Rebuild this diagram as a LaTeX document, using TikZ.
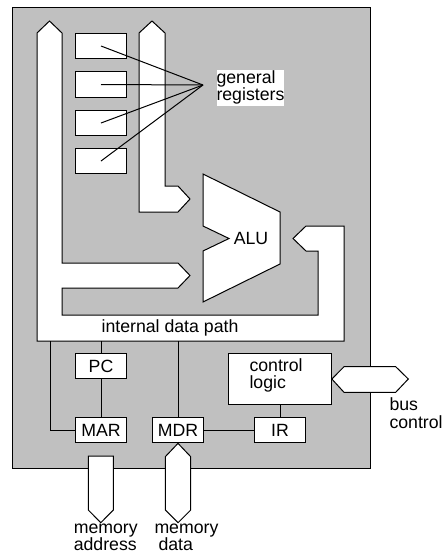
\documentclass[tikz,border=0pt]{standalone}
\usepackage{fontspec}
\setmainfont{Liberation Sans}
\definecolor{cpugray}{HTML}{C0C0C0}
\begin{document}
\begin{tikzpicture}[x=1pt,y=-1pt,line width=1pt,
    font=\fontsize{17.7}{17.5}\selectfont,
    unit/.style={draw,fill=white,minimum width=51.7pt,minimum height=25.7pt,inner sep=0pt},
    bus/.style={draw,fill=white}]
    \useasboundingbox (0,0) rectangle (442,555);
    \draw[fill=cpugray] (12,7) rectangle (370,468);
    % internal data path
    \draw[bus] (37,341) -- (37,33) -- (49.5,21) -- (62,33) -- (62,263) -- (178,263) -- (190,275.5) -- (178,288) -- (62,288) -- (62,315) -- (318,315) -- (318,251) -- (306,251) -- (293,238.5) -- (306,226) -- (344,226) -- (344,341) -- cycle;
    \node (path) at (170,328) {internal data path};
    \draw[bus] (139,212) -- (139,33) -- (152,21) -- (165,33) -- (165,186) -- (178,186) -- (190,199) -- (178,212) -- cycle;
    % ALU
    \draw[bus] (203,174) -- (280,212) -- (280,264) -- (203,302) -- (203,251) -- (229,238.5) -- (203,226) -- cycle;
    \node (alu) at (251,238) {ALU};
    % registers
    \coordinate (hub) at (203,85);
    \foreach \i/\y in {1/46,2/84.5,3/123,4/161}
    {\node[unit] (r\i) at (101,\y) {};
    \draw (r\i.center) -- (hub);}
    \node[fill=white,inner xsep=0pt,inner ysep=1pt,align=left,anchor=north west] (genreg) at (216,69) {general\\registers};
    % lower half
    \node[unit] (pc) at (101,366) {PC};
    \node[unit] (mar) at (101,430) {MAR};
    \node[unit] (mdr) at (178,430) {MDR};
    \node[unit] (ir) at (280,430) {IR};
    \node[draw,fill=white,minimum width=102.7pt,minimum height=51.7pt] (ctl) at (280,379) {};
    \node[align=left,anchor=north west,inner sep=0pt] (ctltext) at (249,358) {control\\logic};
    \coordinate (p1) at (50,341);
    \coordinate (p2) at (101,341);
    \coordinate (p3) at (178,341);
    \draw (p1) |- (mar.west);
    \draw (p2) -- (pc.north);
    \draw (pc) -- (mar);
    \draw (p3) -- (mdr.north);
    \draw (mdr) -- (ir);
    \draw (ctl.south) -- (ir.north);
    % external buses
    \draw[bus] (ctl.east) -- (344,366.7) -- (395.7,366.7) -- (408.3,379) -- (395.7,392.3) -- (344,392.3) -- cycle;
    \node[align=left,anchor=north west,inner sep=0pt] (busctl) at (389,397.5) {bus\\control};
    \draw[bus] (88.3,456) -- (113.3,456) -- (113.3,510) -- (100.8,522.7) -- (88.3,510) -- cycle;
    \draw[bus] (mdr.south) -- (190.7,456.7) -- (190.7,510) -- (178,522.7) -- (165.3,510) -- (165.3,456.7) -- cycle;
    \node[align=left,anchor=north west,inner sep=0pt] (madr) at (73.3,523) {memory\\address};
    \node[align=left,anchor=north west,inner sep=0pt] (mdat) at (154,523) {memory\\\hspace*{4pt}data};
\end{tikzpicture}
\end{document}
